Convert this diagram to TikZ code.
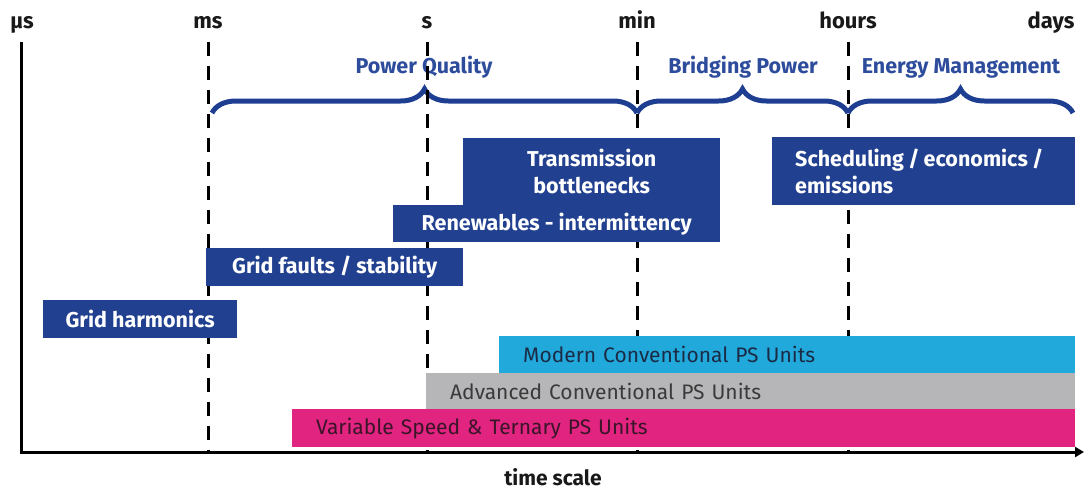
\documentclass[tikz,border=0pt]{standalone}
\usepackage{fontspec}
\setmainfont{Fira Sans}
\usetikzlibrary{decorations.pathreplacing,arrows.meta}
\definecolor{navy}{HTML}{21408F}
\definecolor{bracecol}{HTML}{1E3E92}
\definecolor{labcol}{HTML}{2E4C9C}
\definecolor{cyanbar}{HTML}{22A9DC}
\definecolor{graybar}{HTML}{B6B6B8}
\definecolor{pinkbar}{HTML}{E0247F}
\definecolor{cyantext}{HTML}{1B2B45}
\definecolor{graytext}{HTML}{3A3A3A}
\definecolor{pinktext}{HTML}{3A1428}
\begin{document}
\begin{tikzpicture}[x=1pt,y=-1pt,
  tick/.style={font=\bfseries\fontsize{22}{24}\selectfont, anchor=base, text=black!90},
  grp/.style={font=\bfseries\fontsize{21.5}{24}\selectfont, text=labcol, anchor=base},
  brc/.style={decorate, decoration={brace, amplitude=24pt, aspect=0.5}, draw=bracecol, line width=5pt},
  gridline/.style={line width=3pt, dash pattern=on 14pt off 10pt},
  axisline/.style={line width=3pt},
  box/.style={fill=navy, text=white, font=\bfseries\fontsize{21.5}{27}\selectfont, anchor=north west, inner sep=0pt, align=center},
  bar/.style={anchor=north west, inner ysep=0pt, inner xsep=24pt, align=left, font=\fontsize{21}{24}\selectfont}
]
\useasboundingbox (0,0) rectangle (1084,491);

% tick labels
\node[tick] (lus) at (22,28) {μs};
\node[tick] (lms) at (208,28) {ms};
\node[tick] (ls) at (427,28) {s};
\node[tick] (lmin) at (637,28) {min};
\node[tick] (lhours) at (848,28) {hours};
\node[tick, anchor=base east] (ldays) at (1078,28) {days};

% group labels
\node[grp] (pq) at (424,73) {Power Quality};
\node[grp] (bp) at (743,73) {Bridging Power};
\node[grp] (em) at (961,73) {Energy Management};

% braces
\coordinate (b0) at (212,113);
\coordinate (b1) at (637,113);
\coordinate (b2) at (848,113);
\coordinate (b3) at (1073,113);
\draw[brc] (b0) -- (b1);
\draw[brc] (b1) -- (b2);
\draw[brc] (b2) -- (b3);

% dashed grid lines
\coordinate (mst) at (208,42); \coordinate (msb) at (208,452);
\coordinate (st) at (427,42); \coordinate (sb) at (427,452);
\coordinate (mint) at (637,42); \coordinate (minb) at (637,452);
\coordinate (ht) at (848,42); \coordinate (hb) at (848,452);
\draw[gridline] (mst) -- (msb);
\draw[gridline] (st) -- (sb);
\draw[gridline] (mint) -- (minb);
\draw[gridline] (ht) -- (hb);

% axes
\coordinate (ytop) at (21,42);
\coordinate (o) at (21,452);
\coordinate (xend) at (1084,452);
\draw[axisline, -{Triangle[length=9pt,width=10pt]}] (ytop) -- (o) -- (xend);
\node[font=\bfseries\fontsize{21}{23}\selectfont, anchor=base, text=black!90, inner sep=1pt] (ts) at (553,485) {time scale};

% application boxes
\node[box, minimum width=257, minimum height=67] (trans) at (463,138) {Transmission\\bottlenecks};
\node[box, minimum width=303, minimum height=68, text width=257, inner xsep=23pt, align=left] (sched) at (772,137) {\spaceskip=0.2em plus 0.1em\relax Scheduling / economics /\\emissions};
\node[box, minimum width=327, minimum height=37] (renew) at (393,205) {Renewables - intermittency};
\node[box, minimum width=257, minimum height=38] (faults) at (206,248) {Grid faults / stability};
\node[box, minimum width=194, minimum height=38] (harm) at (43,300) {Grid harmonics};

% PS unit bars
\node[bar, fill=cyanbar, text=cyantext, text width=528, minimum height=37] (modern) at (499,336) {Modern Conventional PS Units};
\node[bar, fill=graybar, text=graytext, text width=601, minimum height=36] (adv) at (426,373) {Advanced Conventional PS Units};
\node[bar, fill=pinkbar, text=pinktext, text width=735, minimum height=38] (var) at (292,409) {Variable Speed \& Ternary PS Units};
\end{tikzpicture}
\end{document}
